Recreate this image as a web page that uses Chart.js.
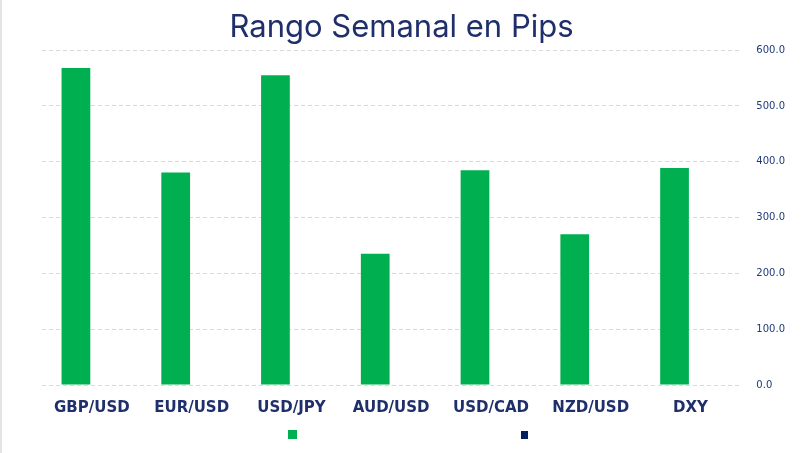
<!DOCTYPE html>
<html lang="es">
<head>
<meta charset="utf-8">
<title>Rango Semanal en Pips</title>
<script src="https://cdn.jsdelivr.net/npm/chart.js@4.4.1/dist/chart.umd.min.js"></script>
<style>
    html, body { margin: 0; padding: 0; background: #fff; }
    .chart-wrap { width: 799px; height: 453px; border-left: 2px solid #e4e4e4; }
</style>
</head>
<body>
<div class="chart-wrap">
    <canvas id="rangeChart" width="799" height="453"></canvas>
</div>
<script>
// Datos del gráfico
const pairs = ['GBP/USD', 'EUR/USD', 'USD/JPY', 'AUD/USD', 'USD/CAD', 'NZD/USD', 'DXY'];
const weeklyRange = [568, 381, 555, 235, 385, 270, 389];
const secondSeries = [0, 0, 0, 0, 0, 0, 0];
const yTicks = [0, 100, 200, 300, 400, 500, 600];

const green = '#00b050';
const navy = '#002060';
const textNavy = '#1f2f6b';

// Leyenda simple: solo los cuadros de color, sin texto
const squareLegend = {
    id: 'squareLegend',
    afterDraw(chart) {
        const ctx = chart.ctx;
        const w = chart.width;
        ctx.save();
        ctx.fillStyle = green;
        ctx.fillRect(Math.round(w * 0.358), 430, 9, 9);
        ctx.fillStyle = navy;
        ctx.fillRect(Math.round(w * 0.650), 431, 7, 8);
        ctx.restore();
    }
};

new Chart(document.getElementById('rangeChart').getContext('2d'), {
    type: 'bar',
    data: {
        labels: pairs,
        datasets: [
            {
                label: 'Rango',
                data: weeklyRange,
                backgroundColor: green,
                borderWidth: 0,
                categoryPercentage: 0.64,
                barPercentage: 0.9
            },
            {
                label: 'Serie 2',
                data: secondSeries,
                backgroundColor: navy,
                borderWidth: 0,
                categoryPercentage: 0.64,
                barPercentage: 0.9
            }
        ]
    },
    options: {
        responsive: false,
        animation: false,
        layout: {
            padding: { left: 0, right: 0, top: 0, bottom: 30 }
        },
        plugins: {
            legend: { display: false },
            tooltip: { enabled: false },
            title: {
                display: true,
                text: 'Rango Semanal en Pips',
                color: textNavy,
                font: { family: 'Inter', size: 31, weight: '400' },
                padding: { top: 9, bottom: 4 }
            }
        },
        scales: {
            x: {
                grid: { display: false },
                border: { display: false },
                ticks: {
                    color: textNavy,
                    font: { family: 'DejaVu Sans', size: 15, weight: 'bold' },
                    padding: 6,
                    maxRotation: 0,
                    minRotation: 0
                }
            },
            y: {
                position: 'right',
                min: 0,
                max: 600,
                afterBuildTicks: axis => {
                    axis.ticks = yTicks.map(v => ({ value: v }));
                },
                grid: {
                    color: '#d9d9d9',
                    drawTicks: false
                },
                border: { display: false, dash: [4, 3] },
                ticks: {
                    color: '#1f3a7a',
                    font: { family: 'DejaVu Sans', size: 10 },
                    padding: 16,
                    callback: v => v.toFixed(1)
                }
            },
            // eje vacío a la izquierda, solo reserva el margen
            spacer: {
                type: 'linear',
                position: 'left',
                display: true,
                grid: { display: false },
                border: { display: false },
                ticks: { display: false },
                afterFit: axis => { axis.width = 40; }
            }
        }
    },
    plugins: [squareLegend]
});
</script>
</body>
</html>
